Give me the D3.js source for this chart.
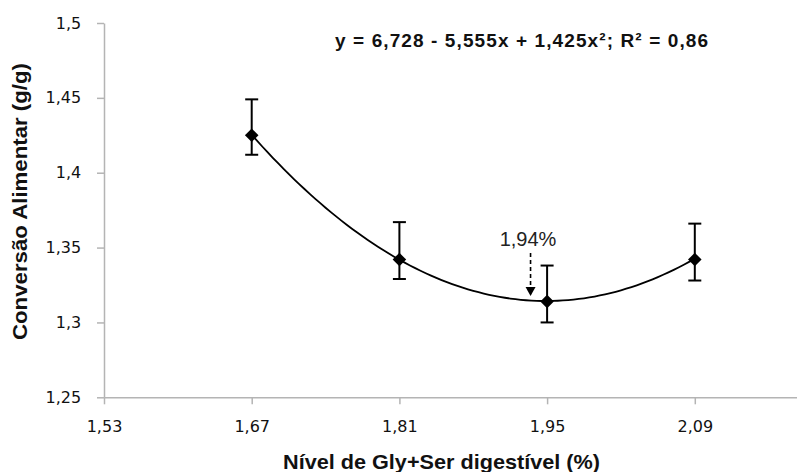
<!DOCTYPE html>
<html>
<head>
<meta charset="utf-8">
<title>Conversão Alimentar</title>
<script src="https://cdn.jsdelivr.net/npm/d3@7"></script>
<style>
  body { margin: 0; background: #fff; }
  .tick text { font-family: "DejaVu Sans", sans-serif; font-size: 16px; fill: #111; }
  .title { font-family: "Liberation Sans", Arial, sans-serif; font-weight: bold; fill: #111; }
</style>
</head>
<body>
<svg id="chart" width="797" height="472"></svg>
<script>
// data
var levels   = [1.67, 1.81, 1.95, 2.09];
var convMean = [1.425, 1.342, 1.314, 1.342];
var errHigh  = [1.449, 1.367, 1.338, 1.366];
var errLow   = [1.412, 1.329, 1.300, 1.328];
var xTicks   = [1.53, 1.67, 1.81, 1.95, 2.09];
var yTicks   = [1.25, 1.3, 1.35, 1.4, 1.45, 1.5];
// quadratic fit printed on the chart: y = a + b x + c x^2
var fitCoef  = [6.728, -5.555, 1.425];
var optimum  = 1.94;

var svg = d3.select("#chart");
var plotL = 104, plotT = 23, plotB = 397.3;

var x = d3.scaleLinear().domain([1.53, 2.23]).range([plotL, plotL + 738.5]);
var y = d3.scaleLinear().domain([1.25, 1.5]).range([plotB, plotT]);

var fmt = function(d) { return String(+d.toFixed(2)).replace(".", ","); };

// axes
var gx = svg.append("g").attr("transform", "translate(0," + plotB + ")")
  .call(d3.axisBottom(x).tickValues(xTicks).tickSize(7).tickSizeOuter(0).tickFormat(fmt));
var gy = svg.append("g").attr("transform", "translate(" + plotL + ",0)")
  .call(d3.axisLeft(y).tickValues(yTicks).tickSize(7).tickSizeOuter(0).tickFormat(fmt));
[gx, gy].forEach(function(g) {
  g.select(".domain").attr("stroke", "#b4b4b4").attr("stroke-width", 1.5);
  g.selectAll(".tick line").attr("stroke", "#b4b4b4").attr("stroke-width", 1.5);
});
gx.selectAll(".tick text").attr("dy", "1.55em");
gy.selectAll(".tick text").attr("dx", "-0.8em");

// fitted curve
var fitPts = d3.range(levels[0], levels[levels.length - 1] + 0.0001, 0.005).map(function(v) {
  return [v, fitCoef[0] + fitCoef[1] * v + fitCoef[2] * v * v];
});
svg.append("path")
  .attr("d", d3.line().x(function(d) { return x(d[0]); }).y(function(d) { return y(d[1]); })(fitPts))
  .attr("fill", "none").attr("stroke", "#000").attr("stroke-width", 1.8);

// error bars
var eb = svg.append("g").attr("stroke", "#000").attr("stroke-width", 2);
levels.forEach(function(v, i) {
  eb.append("line").attr("x1", x(v)).attr("x2", x(v)).attr("y1", y(errHigh[i])).attr("y2", y(errLow[i]));
  [errHigh[i], errLow[i]].forEach(function(e) {
    eb.append("line").attr("x1", x(v) - 6.5).attr("x2", x(v) + 6.5).attr("y1", y(e)).attr("y2", y(e));
  });
});

// diamond markers
svg.append("g").selectAll("path").data(levels).enter().append("path")
  .attr("d", d3.symbol().type(d3.symbolSquare).size(92))
  .attr("transform", function(d, i) { return "translate(" + x(d) + "," + y(convMean[i]) + ") rotate(45)"; })
  .attr("fill", "#000");

// optimum annotation
var ox = x(optimum) - 6;
svg.append("line").attr("x1", ox).attr("x2", ox).attr("y1", 253).attr("y2", 288)
  .attr("stroke", "#000").attr("stroke-width", 1.6).attr("stroke-dasharray", "4,3");
svg.append("path").attr("d", "M" + (ox - 5) + ",287 L" + (ox + 5) + ",287 L" + ox + ",296 Z").attr("fill", "#000");
svg.append("text").attr("x", 528).attr("y", 246).attr("text-anchor", "middle")
  .attr("font-family", "Liberation Sans, Arial, sans-serif").attr("font-size", 20).attr("fill", "#222")
  .text(fmt(optimum) + "%");

// equation
svg.append("text").attr("class", "title").attr("x", 335).attr("y", 47)
  .attr("font-size", 19).attr("textLength", 373).attr("lengthAdjust", "spacing")
  .text("y = 6,728 - 5,555x + 1,425x²; R² = 0,86");

// axis titles
svg.append("text").attr("class", "title").attr("transform", "translate(27,340) rotate(-90)")
  .attr("font-size", 21).attr("textLength", 277).attr("lengthAdjust", "spacingAndGlyphs")
  .text("Conversão Alimentar (g/g)");
svg.append("text").attr("class", "title").attr("x", 283).attr("y", 469)
  .attr("font-size", 21).attr("textLength", 317).attr("lengthAdjust", "spacingAndGlyphs")
  .text("Nível de Gly+Ser digestível (%)");
</script>
</body>
</html>
